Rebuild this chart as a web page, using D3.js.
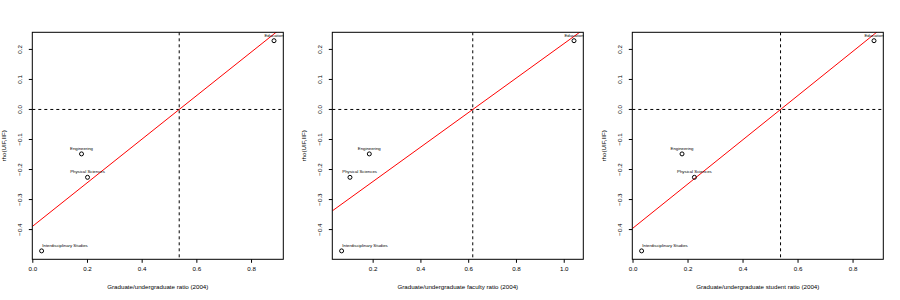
<!DOCTYPE html>
<html>
<head>
<meta charset="utf-8">
<script src="https://cdn.jsdelivr.net/npm/d3@7"></script>
<style>
  body { margin: 0; background: #fff; }
  svg text { font-family: "Liberation Sans", Arial, sans-serif; fill: #000; }
</style>
</head>
<body>
<div id="chart"></div>
<script>
// fields (same order in every panel)
var fields = ["Education", "Engineering", "Physical Sciences", "Interdisciplinary Studies"];
// rho(UIF,IIF) -- shared by all three panels
var rho = [0.229, -0.148, -0.226, -0.471];
// x values per panel
var gradRatio = [0.884, 0.180, 0.202, 0.034];
var facultyRatio = [1.043, 0.186, 0.105, 0.070];
var studentRatio = [0.878, 0.180, 0.225, 0.033];
var xLabels = [
  "Graduate/undergraduate ratio (2004)",
  "Graduate/undergraduate faculty ratio (2004)",
  "Graduate/undergraduate student ratio (2004)"
];
var yTicks = [-0.4, -0.3, -0.2, -0.1, 0.0, 0.1, 0.2];

var W = 900, H = 300;
var svg = d3.select("#chart").append("svg").attr("width", W).attr("height", H);

// R style padded range (4%)
function rpad(v) {
  var e = d3.extent(v), d = (e[1] - e[0]) * 0.04;
  return [e[0] - d, e[1] + d];
}

// ordinary least squares, like lm(y ~ x)
function lmFit(x, y) {
  var mx = d3.mean(x), my = d3.mean(y), sxx = 0, sxy = 0;
  x.forEach(function (v, i) { sxx += (v - mx) * (v - mx); sxy += (v - mx) * (y[i] - my); });
  var b = sxy / sxx;
  return { a: my - b * mx, b: b };
}

var panels = [gradRatio, facultyRatio, studentRatio];

panels.forEach(function (xs, p) {
  var ox = p * 300;
  var left = ox + 32.3, right = ox + 283.3, top = 32.3, bottom = 259.3;
  var g = svg.append("g");
  var clipId = "clip" + p;
  g.append("clipPath").attr("id", clipId).append("rect")
    .attr("x", left).attr("y", top).attr("width", right - left).attr("height", bottom - top);

  var x = d3.scaleLinear().domain(rpad(xs)).range([left, right]);
  var y = d3.scaleLinear().domain(rpad(rho)).range([bottom, top]);

  var fit = lmFit(xs, rho);
  var x0 = -fit.a / fit.b;
  var plot = g.append("g").attr("clip-path", "url(#" + clipId + ")");

  // reference lines
  plot.append("line")
    .attr("x1", left).attr("x2", right).attr("y1", y(0)).attr("y2", y(0))
    .attr("stroke", "#000").attr("stroke-width", 1).attr("stroke-dasharray", "3,3");
  plot.append("line")
    .attr("x1", x(x0)).attr("x2", x(x0)).attr("y1", top).attr("y2", bottom)
    .attr("stroke", "#000").attr("stroke-width", 1).attr("stroke-dasharray", "3,3");

  // regression line
  var xd = x.domain();
  plot.append("line")
    .attr("x1", x(xd[0])).attr("y1", y(fit.a + fit.b * xd[0]))
    .attr("x2", x(xd[1])).attr("y2", y(fit.a + fit.b * xd[1]))
    .attr("stroke", "#ff0000").attr("stroke-width", 1);

  // points
  g.selectAll("circle.pt").data(xs).enter().append("circle")
    .attr("class", "pt")
    .attr("cx", function (d) { return x(d); })
    .attr("cy", function (d, i) { return y(rho[i]); })
    .attr("r", 2)
    .attr("fill", "none").attr("stroke", "#000").attr("stroke-width", 1);

  // labels above points, kept inside the box on the left
  g.selectAll("text.lab").data(xs).enter().append("text")
    .attr("class", "lab")
    .attr("font-size", 4.3)
    .attr("fill", "#222")
    .attr("text-anchor", "middle")
    .attr("y", function (d, i) { return y(rho[i]) - 4; })
    .text(function (d, i) { return fields[i]; })
    .attr("x", function (d) {
      var w = this.getComputedTextLength();
      return Math.max(x(d), left + 10 + w / 2);
    });

  // axes
  var xAxis = d3.axisBottom(x).ticks(5).tickSize(3.5).tickPadding(4)
    .tickFormat(d3.format(".1f"));
  var gx = g.append("g").attr("transform", "translate(0," + bottom + ")").call(xAxis);
  gx.select(".domain").remove();
  gx.selectAll("text").attr("font-size", 6.2).attr("fill", "#222");

  var yAxis = d3.axisLeft(y).tickValues(yTicks).tickSize(3.5).tickPadding(0)
    .tickFormat(d3.format(".1f"));
  var gy = g.append("g").attr("transform", "translate(" + left + ",0)").call(yAxis);
  gy.select(".domain").remove();
  gy.selectAll("text")
    .attr("font-size", 6.2).attr("fill", "#222")
    .attr("x", 0).attr("y", 0).attr("dy", null)
    .attr("text-anchor", "middle");
  // R draws y tick labels rotated, parallel to the axis
  gy.selectAll(".tick").each(function (d) {
    var t = d3.select(this);
    t.attr("transform", "translate(0," + y(d) + ")");
    t.select("text").attr("transform", "translate(-10.5,0) rotate(-90)");
  });

  // box
  g.append("rect")
    .attr("x", left).attr("y", top).attr("width", right - left).attr("height", bottom - top)
    .attr("fill", "none").attr("stroke", "#000").attr("stroke-width", 1);

  // axis titles
  g.append("text")
    .attr("x", (left + right) / 2).attr("y", 289)
    .attr("text-anchor", "middle").attr("font-size", 6.2).attr("fill", "#222")
    .text(xLabels[p]);
  g.append("text")
    .attr("transform", "translate(" + (ox + 6) + "," + ((top + bottom) / 2) + ") rotate(-90)")
    .attr("text-anchor", "middle").attr("font-size", 6.2).attr("fill", "#222")
    .text("rho(UIF,IIF)");
});
</script>
</body>
</html>
